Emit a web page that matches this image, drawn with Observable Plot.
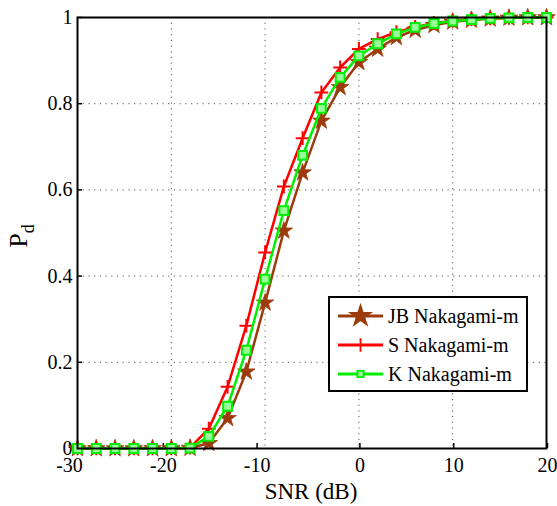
<!DOCTYPE html>
<html>
<head>
<meta charset="utf-8">
<script src="https://cdn.jsdelivr.net/npm/d3@7"></script>
<script src="https://cdn.jsdelivr.net/npm/@observablehq/plot@0.6"></script>
<style>
  html, body { margin: 0; padding: 0; background: #fff; }
  svg text { font-family: "Liberation Serif", "Times New Roman", "DejaVu Serif", serif !important; }
</style>
</head>
<body>
<div id="chart"></div>
<script>
const snr = [-30,-28,-26,-24,-22,-20,-18,-16,-14,-12,-10,-8,-6,-4,-2,0,2,4,6,8,10,12,14,16,18,20];
const jb  = [0,0,0,0,0,0,0.001,0.012,0.07,0.178,0.338,0.505,0.64,0.76,0.838,0.896,0.927,0.954,0.971,0.982,0.99,0.994,0.997,0.999,1,1];
const s   = [0,0,0,0,0,0,0.002,0.046,0.143,0.285,0.455,0.608,0.72,0.826,0.884,0.927,0.95,0.966,0.978,0.987,0.992,0.996,0.998,0.999,1,1];
const k   = [0,0,0,0,0,0,0.001,0.028,0.098,0.228,0.393,0.552,0.68,0.789,0.861,0.911,0.939,0.962,0.977,0.986,0.992,0.995,0.998,0.999,1,1];
const seriesNames = ["JB Nakagami-m", "S Nakagami-m", "K Nakagami-m"];
const xTicks = [-30,-20,-10,0,10,20];
const yTicks = [0,0.2,0.4,0.6,0.8,1];
const xLabel = "SNR (dB)";

const rows = (vals) => snr.map((x,i) => ({x, y: vals[i]}));
const JB = rows(jb), S = rows(s), K = rows(k);

const colors = {jb: "#9c3c0c", s: "#ff0000", k: "#00ee00"};
const serif = '"Liberation Serif", "Times New Roman", serif';

const plot = Plot.plot({
  width: 557, height: 506,
  marginLeft: 77, marginRight: 11, marginTop: 17, marginBottom: 58,
  style: {fontFamily: serif, fontSize: "20px", background: "#fff", color: "#000"},
  x: {domain: [-30, 20]},
  y: {domain: [0, 1]},
  marks: [
    Plot.gridX(xTicks, {stroke: "#444", strokeOpacity: 0.9, strokeDasharray: "1.2,4.5", strokeWidth: 1}),
    Plot.gridY(yTicks, {stroke: "#444", strokeOpacity: 0.9, strokeDasharray: "1.2,4.5", strokeWidth: 1}),
    Plot.axisX(xTicks.filter(d => d < 0), {tickSize: -5, tickPadding: 14, dx: -8, tickFormat: d => String(d), fontSize: 20, label: null, strokeWidth: 1.5}),
    Plot.axisX(xTicks.filter(d => d >= 0), {tickSize: -5, tickPadding: 14, dx: 1, tickFormat: d => String(d), fontSize: 20, label: null, strokeWidth: 1.5}),
    Plot.axisY(yTicks, {tickSize: -5, tickPadding: 10, tickFormat: d => String(d), fontSize: 20, label: null, strokeWidth: 1.5}),
    Plot.line(JB, {x: "x", y: "y", stroke: colors.jb, strokeWidth: 2.5}),
    Plot.dot(JB, {x: "x", y: "y", symbol: "star", r: 5.5, fill: colors.jb, stroke: colors.jb, strokeWidth: 0.8}),
    Plot.line(S, {x: "x", y: "y", stroke: colors.s, strokeWidth: 2.5}),
    Plot.dot(S, {x: "x", y: "y", symbol: "plus", r: 4.5, stroke: colors.s, strokeWidth: 2}),
    Plot.line(K, {x: "x", y: "y", stroke: colors.k, strokeWidth: 2.5}),
    Plot.dot(K, {x: "x", y: "y", symbol: "square", r: 5, stroke: colors.k, fill: "#9f9", strokeWidth: 2}),
    Plot.frame({stroke: "#000", strokeWidth: 2})
  ]
});

const svg = d3.select(plot);
svg.append("text")
  .attr("x", 311).attr("y", 499)
  .attr("text-anchor", "middle")
  .style("font-size", "23px")
  .text(xLabel);
const yl = svg.append("text")
  .attr("transform", "translate(27,236) rotate(-90)")
  .attr("text-anchor", "middle")
  .style("font-size", "26px");
yl.append("tspan").text("P");
yl.append("tspan").attr("dy", 7).style("font-size", "18px").text("d");

const lg = svg.append("g").attr("transform", "translate(329,297)");
lg.append("rect").attr("width", 198).attr("height", 94).attr("fill", "#fff").attr("stroke", "#000").attr("stroke-width", 2);
const legendItems = [
  {name: seriesNames[0], color: colors.jb, sym: d3.symbolStar, size: 120, fill: colors.jb, stroke: colors.jb},
  {name: seriesNames[1], color: colors.s, sym: d3.symbolPlus, size: 60, fill: "none", stroke: colors.s},
  {name: seriesNames[2], color: colors.k, sym: d3.symbolSquare, size: 40, fill: "#9f9", stroke: colors.k}
];
legendItems.forEach((it, i) => {
  const cy = 19 + i * 29;
  lg.append("line").attr("x1", 9).attr("x2", 54).attr("y1", cy).attr("y2", cy)
    .attr("stroke", it.color).attr("stroke-width", 3);
  lg.append("path").attr("d", d3.symbol(it.sym, it.size)())
    .attr("transform", `translate(31.5,${cy})`)
    .attr("fill", it.fill).attr("stroke", it.stroke).attr("stroke-width", 1.8);
  lg.append("text").attr("x", 59).attr("y", cy).attr("dy", "0.35em")
    .attr("text-anchor", "start")
    .style("font-size", "20px")
    .text(it.name);
});

document.getElementById("chart").appendChild(plot);
</script>
</body>
</html>
